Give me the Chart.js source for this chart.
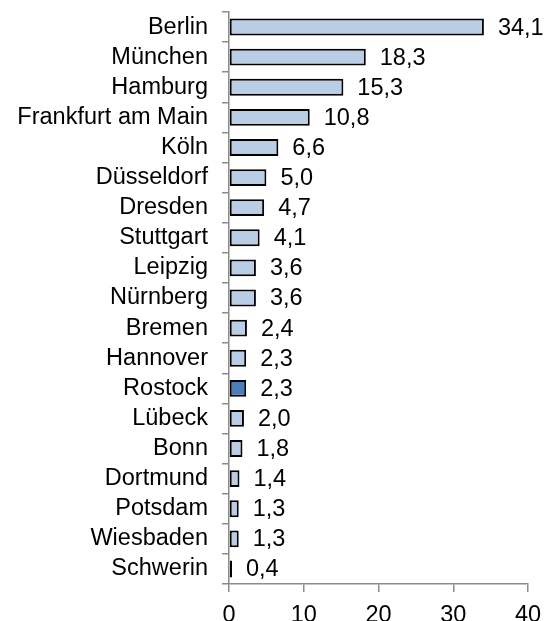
<!DOCTYPE html>
<html>
<head>
<meta charset="utf-8">
<script src="https://cdn.jsdelivr.net/npm/chart.js@4"></script>
<style>
  html, body { margin: 0; padding: 0; background: #fff; }
  #wrap { width: 555px; height: 621px; }
</style>
</head>
<body>
<div id="wrap"><canvas id="cityChart"></canvas></div>
<script>
const cities = [
  "Berlin", "München", "Hamburg", "Frankfurt am Main", "Köln", "Düsseldorf",
  "Dresden", "Stuttgart", "Leipzig", "Nürnberg", "Bremen", "Hannover",
  "Rostock", "Lübeck", "Bonn", "Dortmund", "Potsdam", "Wiesbaden", "Schwerin",
];
const values = [
  34.1, 18.3, 15.3, 10.8, 6.6, 5.0, 4.7, 4.1, 3.6, 3.6, 2.4, 2.3, 2.3, 2.0,
  1.8, 1.4, 1.3, 1.3, 0.4,
];
const highlight = "Rostock";
const xTicks = [0, 10, 20, 30, 40];

const axisGray = "#8c8c8c";
const font = { family: "'Liberation Sans', Arial, sans-serif", size: 23.5, lineHeight: 1 };

// draw the value next to each bar, German decimal comma
const valueLabels = {
  id: "valueLabels",
  afterDatasetsDraw(chart) {
    const ctx = chart.ctx;
    const meta = chart.getDatasetMeta(0);
    ctx.save();
    ctx.font = font.size + "px " + font.family;
    ctx.fillStyle = "#000";
    ctx.textBaseline = "middle";
    ctx.textAlign = "left";
    meta.data.forEach((bar, i) => {
      ctx.fillText(values[i].toFixed(1).replace(".", ","), bar.x + 14, bar.y + 1);
    });
    ctx.restore();
  },
};

new Chart(document.getElementById("cityChart"), {
  type: "bar",
  data: {
    labels: cities,
    datasets: [
      {
        data: values,
        backgroundColor: cities.map((c) => (c === highlight ? "#4a7ebb" : "#b9cde5")),
        borderColor: "#000",
        borderWidth: 2,
        borderSkipped: false,
        barPercentage: 0.56,
        categoryPercentage: 1,
      },
    ],
  },
  options: {
    indexAxis: "y",
    responsive: true,
    maintainAspectRatio: false,
    animation: false,
    layout: { padding: { top: 12, right: 27, bottom: 0, left: 0 } },
    plugins: { legend: { display: false }, tooltip: { enabled: false } },
    scales: {
      x: {
        min: 0,
        max: 40,
        afterBuildTicks: (scale) => {
          scale.ticks = xTicks.map((v) => ({ value: v }));
        },
        afterFit: (scale) => {
          scale.height = 37;
          scale.paddingLeft = 0;
          scale.paddingRight = 0;
        },
        border: { color: axisGray, width: 1.5 },
        grid: { drawOnChartArea: false, color: axisGray, tickLength: 8, lineWidth: 1.5 },
        ticks: { color: "#000", font: font, padding: 12, maxRotation: 0 },
      },
      y: {
        offset: true,
        afterFit: (scale) => {
          scale.width = 229;
          scale.paddingTop = 0;
          scale.paddingBottom = 0;
        },
        border: { color: axisGray, width: 1.5 },
        grid: { offset: true, drawOnChartArea: false, color: axisGray, tickLength: 7, lineWidth: 1.5 },
        ticks: { color: "#000", font: font, padding: 14, autoSkip: false },
      },
    },
  },
  plugins: [valueLabels],
});
</script>
</body>
</html>
